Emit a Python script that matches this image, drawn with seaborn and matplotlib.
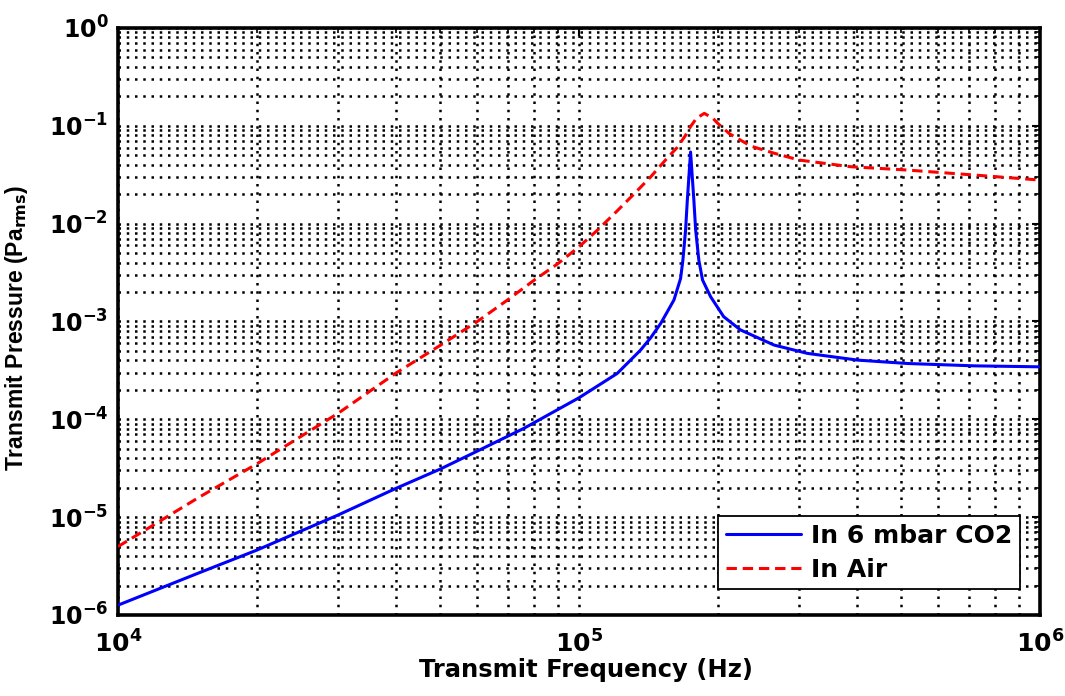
import numpy as np
import pandas as pd
import matplotlib
matplotlib.use("Agg")
import matplotlib.pyplot as plt
from matplotlib.ticker import FixedLocator, FixedFormatter, LogLocator, NullFormatter
import seaborn as sns

# ---------------- data ----------------
freq_co2 = [1.0e4, 1.5e4, 2.0e4, 3.0e4, 4.0e4, 5.0e4, 6.0e4, 7.6e4, 1.0e5,
            1.21e5, 1.36e5, 1.43e5, 1.503e5, 1.555e5, 1.607e5, 1.661e5, 1.68e5,
            1.703e5, 1.718e5, 1.746e5, 1.775e5, 1.791e5, 1.82e5, 1.854e5,
            1.93e5, 2.06e5, 2.24e5, 2.65e5, 3.13e5, 4.02e5, 5.16e5, 7.2e5, 1.0e6]
p_co2 = [1.26e-6, 2.7e-6, 4.6e-6, 1.05e-5, 1.96e-5, 3.1e-5, 4.7e-5, 8.1e-5, 1.66e-4,
         2.94e-4, 5.1e-4, 6.8e-4, 9.5e-4, 1.26e-3, 1.66e-3, 2.75e-3, 4.2e-3,
         8.6e-3, 1.74e-2, 5.4e-2, 1.74e-2, 8.6e-3, 4.2e-3, 2.65e-3,
         1.79e-3, 1.12e-3, 8.2e-4, 5.74e-4, 4.72e-4, 4.03e-4, 3.72e-4, 3.52e-4, 3.44e-4]

freq_air = [1.0e4, 1.5e4, 2.0e4, 3.0e4, 4.0e4, 5.0e4, 6.0e4, 7.0e4, 8.0e4, 9.0e4,
            1.0e5, 1.1e5, 1.21e5, 1.315e5, 1.43e5, 1.555e5, 1.633e5, 1.70e5, 1.745e5,
            1.8e5, 1.87e5, 1.95e5, 2.0e5, 2.12e5, 2.36e5, 2.65e5, 3.0e5, 3.88e5,
            5.16e5, 7.2e5, 1.0e6]
p_air = [5.0e-6, 1.6e-5, 3.5e-5, 1.15e-4, 2.95e-4, 5.7e-4, 9.9e-4, 1.66e-3, 2.65e-3, 3.9e-3,
         5.8e-3, 8.7e-3, 1.35e-2, 2.0e-2, 3.0e-2, 4.7e-2, 6.0e-2, 7.9e-2, 9.8e-2,
         0.12, 0.134, 0.12, 0.106, 0.083, 0.062, 0.0525, 0.0447, 0.0382,
         0.0353, 0.0314, 0.0279]

series_labels = ["In 6 mbar CO2", "In Air"]
x_ticks = [1e4, 1e5, 1e6]
x_tick_labels = [r"$\mathbf{10^{4}}$", r"$\mathbf{10^{5}}$", r"$\mathbf{10^{6}}$"]
y_ticks = [1e-6, 1e-5, 1e-4, 1e-3, 1e-2, 1e-1, 1e0]
y_tick_labels = [r"$\mathbf{10^{-6}}$", r"$\mathbf{10^{-5}}$", r"$\mathbf{10^{-4}}$",
                 r"$\mathbf{10^{-3}}$", r"$\mathbf{10^{-2}}$", r"$\mathbf{10^{-1}}$",
                 r"$\mathbf{10^{0}}$"]
x_label = "Transmit Frequency (Hz)"
y_label = r"Transmit Pressure (Pa$_{\mathbf{rms}}$)"

# ---------------- style ----------------
sns.set_style("white")
plt.rcParams["font.family"] = ["DejaVu Sans"]
plt.rcParams["mathtext.fontset"] = "dejavusans"
plt.rcParams["text.color"] = "black"
plt.rcParams["axes.labelcolor"] = "black"
plt.rcParams["xtick.color"] = "black"
plt.rcParams["ytick.color"] = "black"

df_co2 = pd.DataFrame({"f": freq_co2, "p": p_co2})
df_air = pd.DataFrame({"f": freq_air, "p": p_air})

fig = plt.figure(figsize=(10.65, 6.96), dpi=100)
ax = fig.add_axes([0.1108, 0.1164, 0.8657, 0.8434])
ax.set_xscale("log")
ax.set_yscale("log")

sns.lineplot(data=df_co2, x="f", y="p", ax=ax, color="#0000ff", linewidth=2.2,
             label=series_labels[0], sort=False, zorder=3)
sns.lineplot(data=df_air, x="f", y="p", ax=ax, color="#ff0000", linewidth=2.2,
             linestyle=(0, (3.4, 1.9)), label=series_labels[1], sort=False, zorder=3)

ax.set_xlim(1e4, 1e6)
ax.set_ylim(1e-6, 1e0)

ax.xaxis.set_major_locator(FixedLocator(x_ticks))
ax.xaxis.set_major_formatter(FixedFormatter(x_tick_labels))
ax.yaxis.set_major_locator(FixedLocator(y_ticks))
ax.yaxis.set_major_formatter(FixedFormatter(y_tick_labels))
ax.xaxis.set_minor_locator(LogLocator(base=10, subs=np.arange(2, 10), numticks=20))
ax.yaxis.set_minor_locator(LogLocator(base=10, subs=np.arange(2, 10), numticks=20))
ax.xaxis.set_minor_formatter(NullFormatter())
ax.yaxis.set_minor_formatter(NullFormatter())

ax.set_axisbelow(True)
ax.grid(True, which="both", color="black", linestyle=(0, (1.0, 2.3)), linewidth=1.8)

for s in ax.spines.values():
    s.set_visible(True)
    s.set_color("black")
    s.set_linewidth(2.6)

ax.tick_params(which="both", direction="in", top=True, right=True, color="black")
ax.tick_params(which="major", length=6, width=1.5)
ax.tick_params(which="minor", length=3.5, width=1.2)
ax.tick_params(axis="x", which="major", pad=11, labelsize=18)
ax.tick_params(axis="y", which="major", pad=7, labelsize=17)

ax.set_xlabel(x_label, fontsize=17.5, fontweight="bold")
ax.xaxis.set_label_coords(0.508, -0.073)
ax.set_ylabel(y_label, fontsize=16.5, fontweight="bold", family=["Liberation Sans", "DejaVu Sans"])
ax.yaxis.set_label_coords(-0.095, 0.49)

leg = ax.legend(loc="lower right", bbox_to_anchor=(0.978, 0.044), borderaxespad=0,
                frameon=True, fancybox=False, shadow=False, framealpha=1,
                edgecolor="black", handlelength=3.0, labelspacing=0.4,
                borderpad=0.3, handletextpad=0.4,
                prop={"weight": "bold", "size": 18})
leg.get_frame().set_linewidth(1.3)

fig.savefig("out.png", dpi=100)
